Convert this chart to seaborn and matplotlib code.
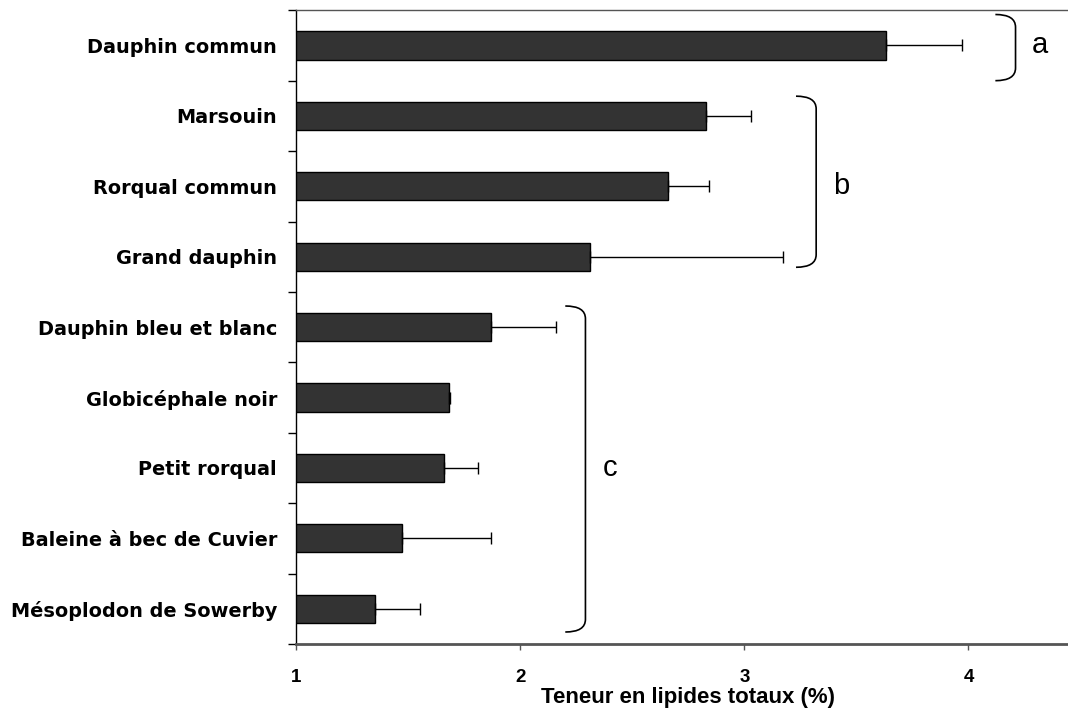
import numpy as np
import pandas as pd
import matplotlib
matplotlib.use('Agg')
import matplotlib.pyplot as plt
from matplotlib.path import Path
from matplotlib.patches import PathPatch
from matplotlib.ticker import FixedLocator
import seaborn as sns

especes = ['Dauphin commun', 'Marsouin', 'Rorqual commun', 'Grand dauphin',
           'Dauphin bleu et blanc', 'Globicéphale noir', 'Petit rorqual',
           'Baleine à bec de Cuvier', 'Mésoplodon de Sowerby']
lipides = [3.63, 2.83, 2.66, 2.31, 1.87, 1.68, 1.66, 1.47, 1.35]
erreur = [0.34, 0.20, 0.18, 0.86, 0.29, 0.005, 0.15, 0.40, 0.20]
# groupes statistiques : lettre, etendue verticale (en rangs d'especes), position x de l'accolade
lettres = ['a', 'b', 'c']
etendues = [(-0.44, 0.50), (0.72, 3.15), (3.70, 8.33)]
accolade_x = [4.12, 3.23, 2.20]

df = pd.DataFrame({'espece': especes, 'lipides': lipides, 'erreur': erreur})

sns.set_style('white')
plt.rcParams['text.color'] = 'black'
fig = plt.figure(figsize=(10.68, 7.13), dpi=100)
ax = fig.add_axes([0.2776, 0.0968, 0.7341, 0.8888])

sns.barplot(data=df, x='lipides', y='espece', orient='h', color='#333333',
            saturation=1, width=0.4, edgecolor='black', linewidth=1, ax=ax)
ax.errorbar(df['lipides'], np.arange(len(df)), xerr=[np.zeros(len(df)), df['erreur']],
            fmt='none', ecolor='black', elinewidth=1, capsize=4, capthick=1)

ax.set_xlim(1, 4.5)
ax.set_ylim(len(df) - 0.5, -0.5)
ax.set_xticks([1, 2, 3, 4])
ax.set_xticklabels(['1', '2', '3', '4'], family='Liberation Sans', fontweight='bold',
                   fontsize=13.5, color='black')
ax.set_yticks(np.arange(len(df)))
ax.set_yticklabels(especes, family='DejaVu Sans', fontweight='bold', fontsize=13.9, color='black')
ax.yaxis.set_minor_locator(FixedLocator(np.arange(len(df) + 1) - 0.5))
ax.tick_params(axis='y', which='major', length=0, pad=14)
ax.tick_params(axis='y', which='minor', length=6, width=1, color='black', direction='out', left=True)
ax.tick_params(axis='x', which='major', length=4, width=1, color='#555555', direction='out',
               bottom=True, pad=14)
ax.set_xlabel('Teneur en lipides totaux (%)', family='Liberation Sans', fontweight='bold',
              fontsize=16, color='black', labelpad=1)
ax.set_ylabel('')

for s in ['left', 'bottom', 'top']:
    ax.spines[s].set_visible(True)
    ax.spines[s].set_color('#555555')
ax.spines['left'].set_color('black')
ax.spines['left'].set_linewidth(1)
ax.spines['bottom'].set_linewidth(2)
ax.spines['top'].set_linewidth(1)
ax.spines['right'].set_visible(False)

# accolades des groupes
for lettre, (haut, bas), x0 in zip(lettres, etendues, accolade_x):
    larg = 0.09
    r = 0.18
    verts = [(x0, haut), (x0 + larg, haut), (x0 + larg, haut + r),
             (x0 + larg, bas - r),
             (x0 + larg, bas), (x0, bas)]
    codes = [Path.MOVETO, Path.CURVE3, Path.CURVE3, Path.LINETO, Path.CURVE3, Path.CURVE3]
    ax.add_patch(PathPatch(Path(verts, codes), fill=False, edgecolor='black', linewidth=1.2,
                           clip_on=False))
    ax.text(x0 + larg + 0.11, round((haut + bas) / 2), lettre, family='Liberation Sans',
            fontsize=21, ha='center', va='center', color='black')

fig.savefig('out.png', dpi=100)
